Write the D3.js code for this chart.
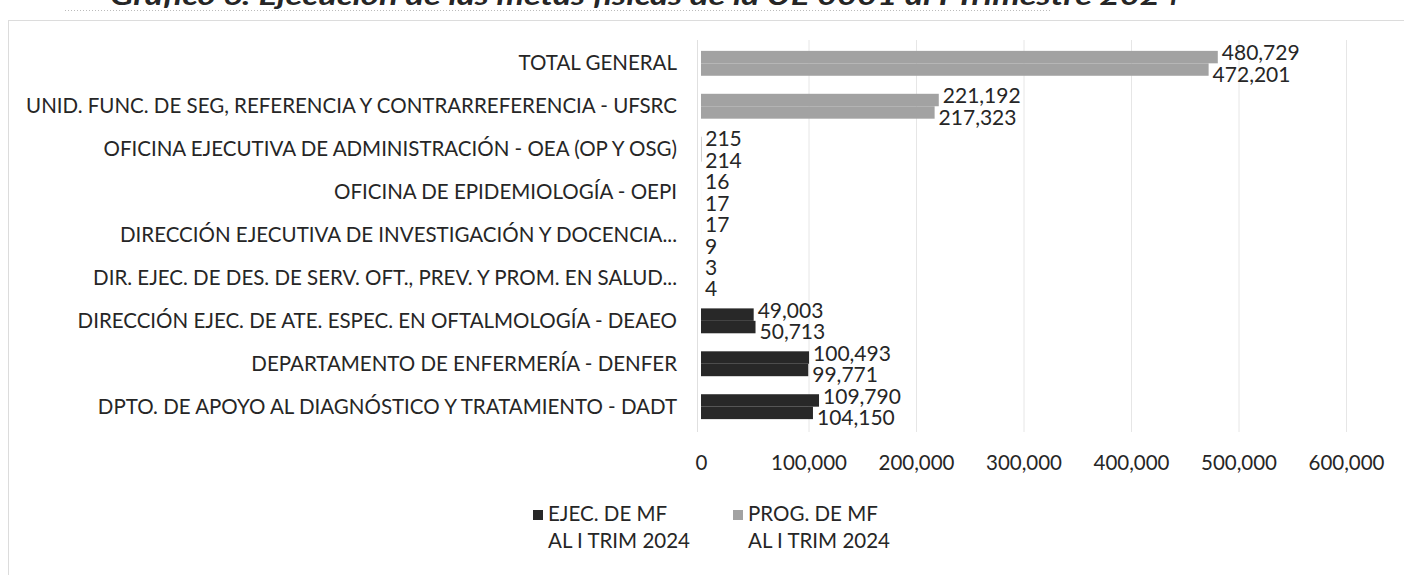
<!DOCTYPE html>
<html>
<head>
<meta charset="utf-8">
<script src="https://cdn.jsdelivr.net/npm/d3@7"></script>
<style>
  body { margin: 0; background: #fff; }
  svg text { font-family: Lato, "Open Sans", sans-serif; fill: #262626; }
</style>
</head>
<body>
<svg id="chart" width="1404" height="575"></svg>
<script>
// categories, top to bottom as in the chart
var categories = [
  "TOTAL GENERAL",
  "UNID. FUNC. DE SEG, REFERENCIA Y CONTRARREFERENCIA - UFSRC",
  "OFICINA EJECUTIVA DE ADMINISTRACIÓN - OEA (OP Y OSG)",
  "OFICINA DE EPIDEMIOLOGÍA - OEPI",
  "DIRECCIÓN EJECUTIVA DE INVESTIGACIÓN Y DOCENCIA...",
  "DIR. EJEC. DE DES. DE SERV. OFT., PREV. Y PROM. EN SALUD...",
  "DIRECCIÓN EJEC. DE ATE. ESPEC. EN OFTALMOLOGÍA - DEAEO",
  "DEPARTAMENTO DE ENFERMERÍA - DENFER",
  "DPTO. DE APOYO AL DIAGNÓSTICO Y TRATAMIENTO - DADT"
];
// programado (upper bar of each pair)
var progValues = [480729, 221192, 215, 16, 17, 3, 49003, 100493, 109790];
// ejecutado (lower bar of each pair)
var ejecValues = [472201, 217323, 214, 17, 9, 4, 50713, 99771, 104150];
var xTicks = [0, 100000, 200000, 300000, 400000, 500000, 600000];
var legendNames = [["EJEC. DE MF", "AL I TRIM 2024"], ["PROG. DE MF", "AL I TRIM 2024"]];
var titleText = "Gráfico 6: Ejecución de las metas físicas de la UE 0001 al I Trimestre 2024";

var svg = d3.select("#chart");
var fmt = d3.format(",");

var dark = "#282828", gray = "#a2a2a2";

// outer frame of the chart
svg.append("rect")
  .attr("x", 8.5).attr("y", 20.5)
  .attr("width", 1420).attr("height", 600)
  .attr("fill", "none").attr("stroke", "#dcdcdc");

// title (cut at the top in the scan)
var title = svg.append("text")
  .attr("x", 645).attr("y", 5)
  .attr("text-anchor", "middle")
  .style("font-weight", "bold").style("font-style", "italic")
  .style("font-size", "27px")
  .text(titleText);
title.attr("textLength", 1070).attr("lengthAdjust", "spacingAndGlyphs");

svg.append("line")
  .attr("x1", 65).attr("x2", 1050).attr("y1", 10.5).attr("y2", 10.5)
  .attr("stroke", "#bbb").attr("stroke-dasharray", "1,2");

var x = d3.scaleLinear().domain([0, 600000]).range([701, 1346]);
var y = d3.scaleBand().domain(categories).range([38, 432]).paddingInner(0.42).paddingOuter(0.3);
var ySub = d3.scaleBand().domain(["prog", "ejec"]).range([0, y.bandwidth()]);

// gridlines
svg.append("g").selectAll("line")
  .data(xTicks.slice(1))
  .join("line")
  .attr("x1", d => x(d) + 0.5).attr("x2", d => x(d) + 0.5)
  .attr("y1", 40).attr("y2", 432)
  .attr("stroke", "#e6e6e6");

// category axis line
svg.append("line")
  .attr("x1", x(0) - 3.5).attr("x2", x(0) - 3.5)
  .attr("y1", 40).attr("y2", 432)
  .attr("stroke", "#e0e0e0");

// x axis
var xAxis = svg.append("g")
  .attr("transform", "translate(0,452)")
  .call(d3.axisBottom(x).tickValues(xTicks).tickFormat(fmt).tickSize(0));
xAxis.select(".domain").remove();
xAxis.selectAll("text")
  .style("font-size", "20.5px").style("font-family", "Lato, 'Open Sans', sans-serif")
  .attr("fill", "#333");

// category labels
svg.append("g").selectAll("text")
  .data(categories)
  .join("text")
  .attr("x", 677)
  .attr("y", d => y(d) + y.bandwidth() / 2)
  .attr("dy", "0.35em")
  .attr("text-anchor", "end")
  .style("font-size", "20.5px")
  .text(d => d);

var rows = categories.map(function (c, i) {
  return { cat: c, i: i, prog: progValues[i], ejec: ejecValues[i] };
});

// in the printed original the two largest groups come out light gray
var fillFor = function (d) { return d.i < 2 ? gray : dark; };

var groups = svg.append("g").selectAll("g")
  .data(rows)
  .join("g")
  .attr("transform", d => "translate(0," + y(d.cat) + ")");

groups.append("rect")
  .attr("x", x(0))
  .attr("y", ySub("prog"))
  .attr("width", d => x(d.prog) - x(0))
  .attr("height", ySub.bandwidth())
  .attr("fill", fillFor);

groups.append("rect")
  .attr("x", x(0))
  .attr("y", ySub("ejec"))
  .attr("width", d => x(d.ejec) - x(0))
  .attr("height", ySub.bandwidth())
  .attr("fill", fillFor);

// value labels
groups.append("text")
  .attr("x", d => x(d.prog) + 4)
  .attr("y", ySub("prog") + ySub.bandwidth() / 2 - 4)
  .attr("dy", "0.35em")
  .style("font-size", "21px")
  .text(d => fmt(d.prog));

groups.append("text")
  .attr("x", d => x(d.ejec) + 4)
  .attr("y", ySub("ejec") + ySub.bandwidth() / 2 + 5)
  .attr("dy", "0.35em")
  .style("font-size", "21px")
  .text(d => fmt(d.ejec));

// legend
var legendColors = [dark, gray];
var lg = svg.append("g").selectAll("g")
  .data(legendNames)
  .join("g")
  .attr("transform", (d, i) => "translate(" + (533 + i * 200) + ",0)");
lg.append("rect")
  .attr("x", 0).attr("y", 510)
  .attr("width", 10).attr("height", 10)
  .attr("fill", (d, i) => legendColors[i]);
lg.append("text")
  .attr("x", 15).attr("y", 514).attr("dy", "0.35em")
  .style("font-size", "20.5px")
  .text(d => d[0]);
lg.append("text")
  .attr("x", 15).attr("y", 541).attr("dy", "0.35em")
  .style("font-size", "20.5px")
  .text(d => d[1]);
</script>
</body>
</html>
